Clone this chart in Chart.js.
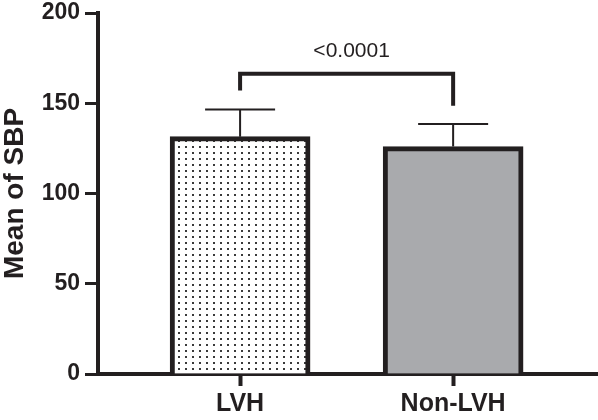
<!DOCTYPE html>
<html>
<head>
<meta charset="utf-8">
<script src="https://cdn.jsdelivr.net/npm/chart.js@4.4.1/dist/chart.umd.min.js"></script>
<style>
  html, body { margin: 0; padding: 0; background: #fff; }
  #wrap { width: 598px; height: 420px; position: relative; }
</style>
</head>
<body>
<div id="wrap"><canvas id="chBar"></canvas></div>
<script>
// data
var categories = ['LVH', 'Non-LVH'];
var means = [131.5, 126];
var sds = [15, 12.5];
var yTicks = [0, 50, 100, 150, 200];
var pLabel = '<0.0001';
var bracketTop = 166.3;            // horizontal part of the significance bracket
var bracketLegEnds = [157, 148.6]; // lower end of each bracket leg

var ink = '#231f20';
var font = "'Liberation Sans', Arial, sans-serif";

// dotted fill for the first bar
function dotPattern() {
    var c = document.createElement('canvas');
    c.width = 7; c.height = 6;
    var g = c.getContext('2d');
    g.fillStyle = '#fff';
    g.fillRect(0, 0, 7, 6);
    g.fillStyle = '#3a3a3a';
    g.fillRect(3, 2, 2, 2);
    return g.createPattern(c, 'repeat');
}

var errorBars = {
    id: 'errorBars',
    afterDatasetsDraw: function (chart) {
        var ctx = chart.ctx;
        var xs = chart.scales.x, ys = chart.scales.y;
        ctx.save();
        ctx.strokeStyle = ink;
        ctx.lineWidth = 2;
        means.forEach(function (m, i) {
            var x = xs.getPixelForValue(i);
            var yb = ys.getPixelForValue(m);
            var yt = ys.getPixelForValue(m + sds[i]);
            ctx.beginPath();
            ctx.moveTo(x, yb);
            ctx.lineTo(x, yt);
            ctx.moveTo(x - 35, yt);
            ctx.lineTo(x + 35, yt);
            ctx.stroke();
        });

        // significance bracket
        var x0 = xs.getPixelForValue(0), x1 = xs.getPixelForValue(1);
        var yTop = ys.getPixelForValue(bracketTop);
        ctx.lineWidth = 4;
        ctx.lineJoin = 'miter';
        ctx.beginPath();
        ctx.moveTo(x0, ys.getPixelForValue(bracketLegEnds[0]));
        ctx.lineTo(x0, yTop);
        ctx.lineTo(x1, yTop);
        ctx.lineTo(x1, ys.getPixelForValue(bracketLegEnds[1]));
        ctx.stroke();

        ctx.fillStyle = ink;
        ctx.font = '21px ' + font;
        ctx.textAlign = 'center';
        ctx.textBaseline = 'middle';
        ctx.fillText(pLabel, (x0 + x1) / 2 + 5, ys.getPixelForValue(179));
        ctx.restore();
    }
};

var chBar = document.getElementById('chBar');
new Chart(chBar, {
    type: 'bar',
    data: {
        datasets: [{
            data: means.map(function (m, i) { return { x: i, y: m }; }),
            backgroundColor: [dotPattern(), '#a9aaad'],
            borderColor: ink,
            borderWidth: 5,
            borderSkipped: 'start',
            barThickness: 140
        }]
    },
    plugins: [errorBars],
    options: {
        responsive: true,
        maintainAspectRatio: false,
        animation: false,
        layout: { padding: { top: 13, right: 0, left: 0, bottom: 0 } },
        plugins: { legend: { display: false }, tooltip: { enabled: false } },
        scales: {
            x: {
                type: 'linear',
                offset: false,
                min: -0.667,
                max: 1.68,
                afterBuildTicks: function (s) {
                    s.ticks = categories.map(function (c, i) { return { value: i }; });
                },
                afterFit: function (s) {
                    s.height = 46;
                    s.paddingLeft = 0;
                    s.paddingRight = 0;
                },
                ticks: {
                    callback: function (v) { return categories[v]; },
                    color: ink,
                    font: { family: font, size: 25, weight: 'bold' },
                    padding: 3,
                    maxRotation: 0,
                    autoSkip: false
                },
                grid: { offset: false, drawOnChartArea: false, tickLength: 12, tickWidth: 4, tickColor: ink },
                border: { color: ink, width: 4 }
            },
            y: {
                min: 0,
                max: 200,
                afterBuildTicks: function (s) {
                    s.ticks = yTicks.map(function (v) { return { value: v }; });
                },
                afterFit: function (s) {
                    s.width = 98;
                    s.paddingTop = 0;
                    s.paddingBottom = 0;
                },
                ticks: {
                    color: ink,
                    font: { family: font, size: 23, weight: 'bold' },
                    padding: 5
                },
                grid: { drawOnChartArea: false, tickLength: 13, tickWidth: 3, tickColor: ink },
                border: { color: ink, width: 4 },
                title: {
                    display: true,
                    text: 'Mean of SBP',
                    color: ink,
                    font: { family: font, size: 28, weight: 'bold', lineHeight: 1.0 },
                    padding: { top: 1, bottom: 0 }
                }
            }
        }
    }
});
</script>
</body>
</html>
